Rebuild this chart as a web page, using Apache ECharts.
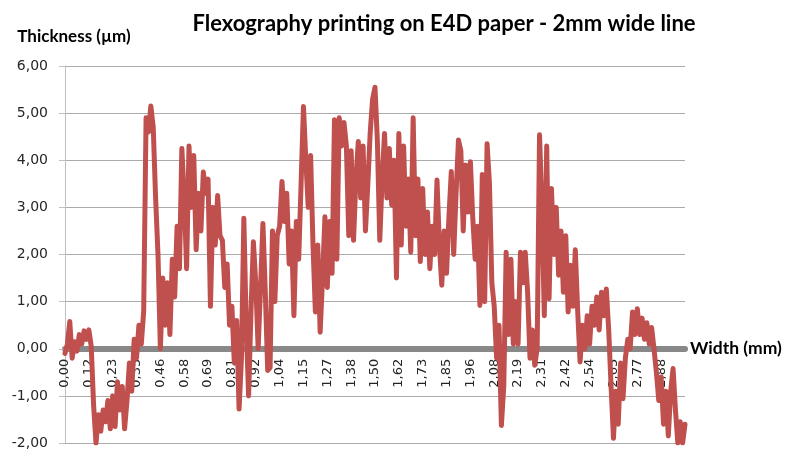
<!DOCTYPE html>
<html><head><meta charset="utf-8">
<script src="https://cdn.jsdelivr.net/npm/echarts@6/dist/echarts.min.js"></script>
<style>html,body{margin:0;padding:0;background:#fff}#c{width:785px;height:451px}</style>
</head><body><div id="c"></div>
<script>
var titleText = 'Flexography printing on E4D paper - 2mm wide line';
var yAxisName = 'Thickness (µm)';
var xAxisName = 'Width (mm)';
var tickLabels = ['0,00','0,12','0,23','0,35','0,46','0,58','0,69','0,81','0,92','1,04','1,15','1,27','1,38','1,50','1,62','1,73','1,85','1,96','2,08','2,19','2,31','2,42','2,54','2,65','2,77','2,88'];
var pointsPerTick = 10;
var thickness = [
 -0.1,0.1,0.58,-0.2,0.15,-0.05,0.3,0.1,0.38,0.2,
 0.4,0.05,-1.2,-2.0,-1.4,-1.75,-1.3,-1.55,-1.1,-1.7,
 -1.0,-1.65,-0.7,-1.3,-0.8,-1.7,-1.1,-0.3,-0.9,0.2,
 -0.2,0.5,0.1,0.8,4.9,4.6,5.15,4.7,3.2,2.0,
 0.0,1.5,0.5,1.4,0.3,1.9,1.1,2.6,1.7,4.25,
 3.2,1.7,4.3,3.0,4.1,2.1,3.3,2.5,3.75,3.3,
 3.6,0.9,3.0,2.2,3.25,2.4,2.3,1.3,1.8,0.5,
 0.9,-0.3,0.6,-1.28,-0.2,2.77,0.5,-1.0,0.8,2.27,
 1.4,0.0,1.3,2.66,1.2,-0.46,-0.4,2.5,1.0,2.4,
 2.6,3.55,2.7,3.3,1.8,2.5,0.7,2.7,1.9,3.5,
 5.14,4.0,3.0,4.1,2.2,0.78,2.2,0.35,1.5,2.8,
 1.3,2.7,1.6,4.86,1.9,4.9,4.3,4.8,4.3,2.4,
 4.2,2.3,3.6,4.4,3.2,4.3,2.5,3.5,4.6,5.3,
 5.55,4.4,2.3,3.6,4.57,3.2,4.25,3.05,4.0,1.5,
 4.57,2.2,4.3,2.6,3.6,2.05,4.9,2.4,3.6,1.85,
 3.4,2.0,2.9,1.7,2.6,2.0,3.58,2.2,1.35,2.5,
 1.6,2.8,3.76,2.0,3.3,4.43,4.2,2.5,3.9,2.9,
 3.97,2.77,1.9,2.6,0.92,3.7,1.0,4.35,3.5,1.4,
 0.9,-0.2,0.5,-1.63,-0.8,2.05,0.3,1.9,0.1,1.0,
 0.1,2.05,1.4,2.05,1.2,-0.2,0.4,-0.35,0.0,4.54,
 3.0,0.7,4.3,1.06,3.4,2.0,3.0,1.56,2.5,1.2,
 2.4,0.78,1.77,0.9,2.1,0.8,-0.28,0.5,0.0,0.7,
 0.1,0.9,0.5,1.1,0.4,1.2,0.7,1.27,0.4,-0.8,
 -1.9,-0.9,-1.6,-0.3,-1.06,-0.2,0.2,0.0,0.78,0.3,
 0.85,0.3,0.65,0.2,0.55,0.1,0.45,0.0,-0.5,-1.1,
 -0.6,-1.6,-0.9,-1.85,-0.9,-0.42,-1.3,-2.0,-1.55,-2.0,-1.6
];
var yMin = -2, yMax = 6, yStep = 1;
var categories = thickness.map(function(v, i){ return String(i); });

var W = 785, H = 451, gTop = 66, gBottom = 8;
var gH = H - gTop - gBottom;
var zeroOffset = -gH * (0 - yMin) / (yMax - yMin);

var chart = echarts.init(document.getElementById('c'), null, {renderer:'canvas'});
var font = 'Lato, "Open Sans", sans-serif';
var labelFont = '"DejaVu Sans", Verdana, sans-serif';
chart.setOption({
  animation:false,
  backgroundColor:'#fff',
  title:{text:titleText,left:439,top:8,textAlign:'center',
    textStyle:{fontFamily:font,fontSize:22,fontWeight:'bold',color:'#000'}},
  grid:{left:65,right:100,top:gTop,bottom:gBottom,containLabel:false,outerBoundsMode:'none'},
  xAxis:{type:'category',data:categories,boundaryGap:false,position:'bottom',offset:zeroOffset,
    name:xAxisName,nameLocation:'end',nameGap:5,
    nameTextStyle:{fontFamily:font,fontSize:17.5,fontWeight:'bold',color:'#000',verticalAlign:'middle'},
    axisLine:{onZero:false,lineStyle:{color:'#888888',width:6}},
    axisTick:{show:false},
    axisLabel:{interval:pointsPerTick-1,rotate:90,margin:10,fontFamily:labelFont,fontSize:13,color:'#262626',
      formatter:function(v, idx){ var t = tickLabels[idx / pointsPerTick]; return t || ''; }},
    splitLine:{show:false}},
  yAxis:{type:'value',min:yMin,max:yMax,interval:yStep,
    name:yAxisName,nameLocation:'end',nameGap:21,
    nameTextStyle:{fontFamily:font,fontSize:17,fontWeight:'bold',color:'#000',align:'center',padding:[0,0,0,18]},
    axisLine:{show:true,lineStyle:{color:'#BFBFBF',width:1}},
    axisTick:{show:true,length:6,lineStyle:{color:'#BFBFBF'}},
    axisLabel:{margin:17,fontFamily:labelFont,fontSize:14,color:'#262626',
      formatter:function(v){ return v.toFixed(2).replace('.', ','); }},
    splitLine:{lineStyle:{color:'#ABABAB',width:1}}},
  series:[{type:'line',data:thickness,symbol:'none',
    lineStyle:{color:'#C0504D',width:5,join:'round',cap:'round'},
    itemStyle:{color:'#C0504D'}}]
});
</script></body></html>
